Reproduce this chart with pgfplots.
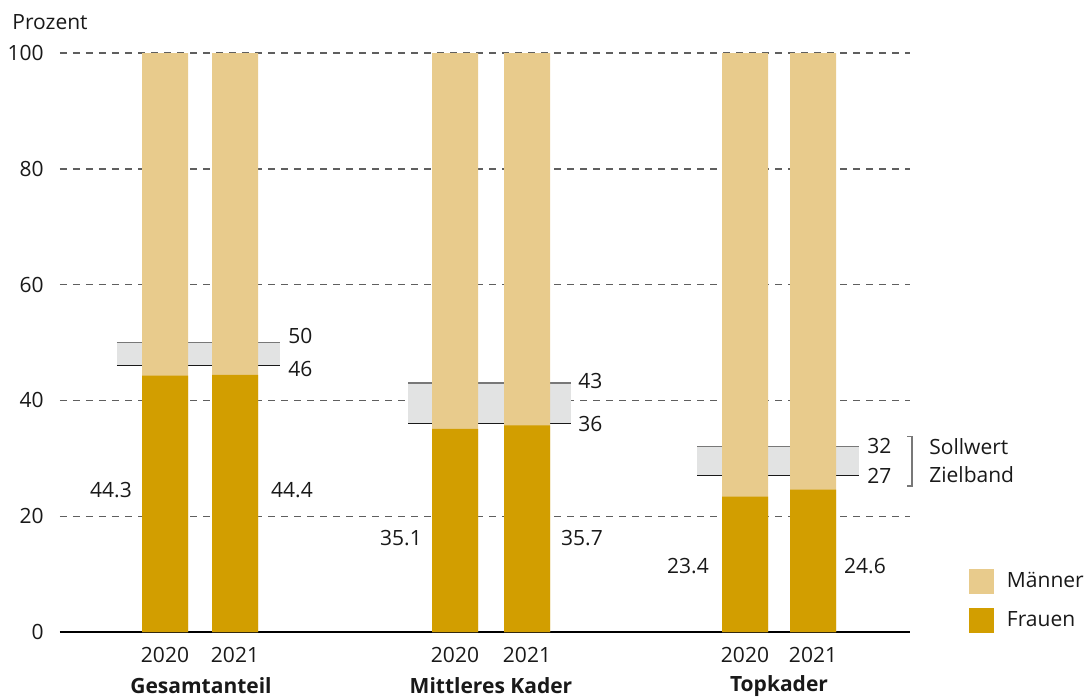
\documentclass[border=0pt]{standalone}
\usepackage{fontspec}
\setmainfont{Open Sans}
\usepackage{pgfplots}
\pgfplotsset{compat=1.18}

\definecolor{maenner}{RGB}{232,203,140}
\definecolor{frauen}{RGB}{210,158,0}
\definecolor{band}{RGB}{226,227,227}
\definecolor{gridc}{RGB}{95,95,95}
\definecolor{bandtop}{RGB}{120,120,120}
\definecolor{txt}{RGB}{25,25,25}

\begin{document}
\fontsize{10.5}{12.6}\selectfont
\begin{tikzpicture}
\path[use as bounding box] (0,0) rectangle (544.5pt,349pt);
\begin{axis}[
  at={(30pt,33pt)}, anchor=south west,
  scale only axis, width=425pt, height=289.5pt,
  xmin=60, xmax=910, ymin=0, ymax=100,
  axis lines*=left,
  y axis line style={draw=none},
  x axis line style={line width=1pt, black},
  xtick=\empty,
  ytick={0,20,40,60,80,100},
  major tick length=0pt,
  ymajorgrids,
  grid style={gridc, dash pattern=on 3.5pt off 3pt, line width=0.7pt},
  /pgf/number format/assume math mode=true,
  yticklabel style={anchor=east, inner sep=0pt, xshift=-8pt, text=txt},
  clip=false,
  legend image code/.code={\fill[#1] (0pt,-6.25pt) rectangle (12.5pt,6.25pt);},
  legend style={at={(1.0694,0.1088)}, anchor=north west, draw=none, fill=none,
    inner sep=0pt, outer sep=0pt, row sep=7pt, column sep=6.5pt,
    nodes={inner sep=0pt, anchor=west, text=txt}},
  legend cell align=left,
]
% Zielbaender
\addplot[fill=band, draw=none, forget plot] coordinates {(117,46) (280,46) (280,50) (117,50)} -- cycle;
\addplot[fill=band, draw=none, forget plot] coordinates {(408,36) (571,36) (571,43) (408,43)} -- cycle;
\addplot[fill=band, draw=none, forget plot] coordinates {(697,27) (859,27) (859,32) (697,32)} -- cycle;
\addplot[bandtop, line width=0.6pt, mark=none, forget plot] coordinates {(117,50) (280,50)};
\addplot[txt, line width=0.6pt, mark=none, forget plot] coordinates {(117,46) (280,46)};
\addplot[bandtop, line width=0.6pt, mark=none, forget plot] coordinates {(408,43) (571,43)};
\addplot[txt, line width=0.6pt, mark=none, forget plot] coordinates {(408,36) (571,36)};
\addplot[bandtop, line width=0.6pt, mark=none, forget plot] coordinates {(697,32) (859,32)};
\addplot[txt, line width=0.6pt, mark=none, forget plot] coordinates {(697,27) (859,27)};

% Balken
\addplot[ybar, bar width=46, bar shift=0pt, fill=maenner, draw=none]
  coordinates {(165,100) (235,100) (455,100) (527,100) (745,100) (813,100)};
\addlegendentry{Männer}
\addplot[ybar, bar width=46, bar shift=0pt, fill=frauen, draw=none]
  coordinates {(165,44.3) (235,44.4) (455,35.1) (527,35.7) (745,23.4) (813,24.6)};
\addlegendentry{Frauen}

% Werte
\node[txt] at (axis cs:111,24.5) {44.3};
\node[txt] at (axis cs:292,24.5) {44.4};
\node[txt] at (axis cs:401,16.2) {35.1};
\node[txt] at (axis cs:582,16.2) {35.7};
\node[txt] at (axis cs:688,11.4) {23.4};
\node[txt] at (axis cs:865,11.4) {24.6};

\node[txt, anchor=west, inner sep=0pt] at (axis cs:288,51.1) {50};
\node[txt, anchor=west, inner sep=0pt] at (axis cs:288,45.4) {46};
\node[txt, anchor=west, inner sep=0pt] at (axis cs:578,43.4) {43};
\node[txt, anchor=west, inner sep=0pt] at (axis cs:578,35.9) {36};
\node[txt, anchor=west, inner sep=0pt] at (axis cs:867,32.1) {32};
\node[txt, anchor=west, inner sep=0pt] at (axis cs:867,26.9) {27};

\draw[bandtop, line width=0.6pt] (axis cs:907,33.7) -- (axis cs:912,33.7) -- (axis cs:912,25.2) -- (axis cs:907,25.2);
\node[txt, anchor=west, inner sep=0pt] at (axis cs:929,32.0) {Sollwert};
\node[txt, anchor=west, inner sep=0pt] at (axis cs:929,27.1) {Zielband};

\node[txt, anchor=west, inner sep=0pt] at (axis cs:12,105.4) {Prozent};

% Kategorien
\node[txt] at (axis cs:165,-3.97) {2020};
\node[txt] at (axis cs:235,-3.97) {2021};
\node[txt] at (axis cs:455,-3.97) {2020};
\node[txt] at (axis cs:527,-3.97) {2021};
\node[txt] at (axis cs:745,-3.97) {2020};
\node[txt] at (axis cs:813,-3.97) {2021};
\node[txt, font=\bfseries] at (axis cs:201,-9.33) {Gesamtanteil};
\node[txt, font=\bfseries] at (axis cs:491,-9.33) {Mittleres Kader};
\node[txt, font=\bfseries] at (axis cs:779,-9.33) {Topkader};
\end{axis}
\end{tikzpicture}
\end{document}
